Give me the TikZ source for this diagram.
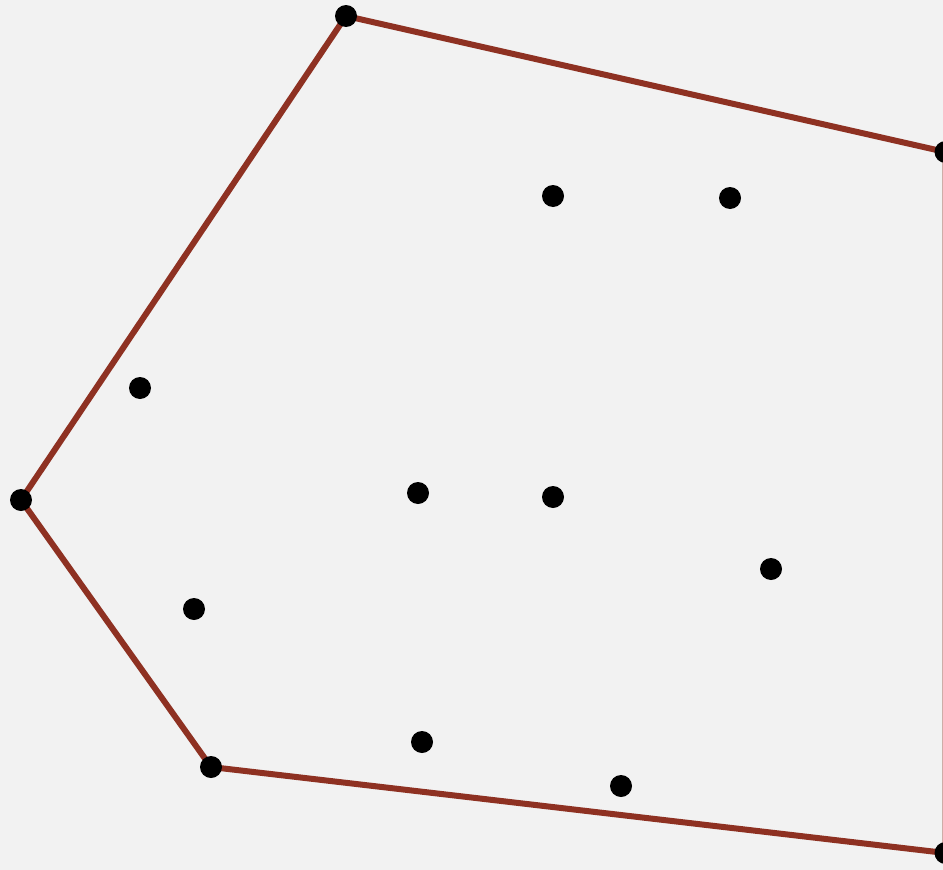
\documentclass[tikz,border=0pt]{standalone}
\usetikzlibrary{calc}
\definecolor{bg}{HTML}{F2F2F2}
\definecolor{hull}{HTML}{8E3122}
\tikzset{
  pt/.style={circle,fill=black,inner sep=0pt,minimum size=22pt},
  hullline/.style={draw=hull,line width=6pt,line join=round}
}
\begin{document}
\begin{tikzpicture}[x=1pt,y=-1pt]
\useasboundingbox (0,0) rectangle (943,870);
\clip (0,0) rectangle (943,870);
\fill[bg] (0,0) rectangle (943,870);
% hull vertices
\coordinate (h1) at (346,16);
\coordinate (h2) at (945.5,152);
\coordinate (h3) at (945.5,853);
\coordinate (h4) at (211,767);
\coordinate (h5) at (21,500);
\draw[hullline] (h1) -- (h2) -- (h3) -- (h4) -- (h5) -- cycle;
\foreach \c in {h1,h2,h3,h4,h5} \node[pt] at (\c) {};
% interior points
\node[pt] (p1) at (553,196) {};
\node[pt] (p2) at (730,198) {};
\node[pt] (p3) at (140,388) {};
\node[pt] (p4) at (418,493) {};
\node[pt] (p5) at (553,497) {};
\node[pt] (p6) at (771,569) {};
\node[pt] (p7) at (194,609) {};
\node[pt] (p8) at (422,742) {};
\node[pt] (p9) at (621,786) {};
\end{tikzpicture}
\end{document}
